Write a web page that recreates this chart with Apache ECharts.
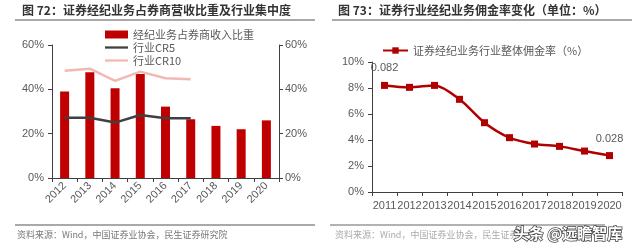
<!DOCTYPE html>
<html><head><meta charset="utf-8">
<script src="https://cdn.jsdelivr.net/npm/echarts@6/dist/echarts.min.js"></script>
<style>html,body{margin:0;padding:0;background:#fff}#c{width:640px;height:249px}</style>
</head><body><div id="c"></div>
<script>
const yearsL = ['2012','2013','2014','2015','2016','2017','2018','2019','2020'];
const brokerShare = [0.39, 0.477, 0.405, 0.469, 0.322, 0.265, 0.235, 0.22, 0.26];
const cr5 = [0.272, 0.272, 0.25, 0.284, 0.27, 0.27, null, null, null];
const cr10 = [0.484, 0.493, 0.438, 0.48, 0.45, 0.445, null, null, null];
const yearsR = ['2011','2012','2013','2014','2015','2016','2017','2018','2019','2020'];
const commission = [0.082, 0.0805, 0.082, 0.0713, 0.0533, 0.0418, 0.0369, 0.0351, 0.0315, 0.028];
const leftTicks = [0, 0.2, 0.4, 0.6];
const rightTicks = [0, 0.02, 0.04, 0.06, 0.08, 0.10];

const gray = '#595959';
const axisFont = 'Liberation Sans, Arial, sans-serif';
const cjk = '"Noto Sans CJK SC", sans-serif';
const pct = v => Math.round(v * 100) + '%';

const chart = echarts.init(document.getElementById('c'), null, {renderer: 'canvas'});
chart.setOption({
  animation: false,
  backgroundColor: '#fff',
  graphic: [
    {type: 'text', left: 22, top: 4, style: {text: '图 72：证券经纪业务占券商营收比重及行业集中度', font: 'bold 12px ' + cjk, fill: '#333'}},
    {type: 'line', shape: {x1: 15, y1: 20, x2: 315, y2: 20}, style: {stroke: '#555', lineWidth: 1.2}},
    {type: 'text', left: 338, top: 4, style: {text: '图 73：证券行业经纪业务佣金率变化（单位：%）', font: 'bold 12px ' + cjk, fill: '#333'}},
    {type: 'line', shape: {x1: 332, y1: 20, x2: 632, y2: 20}, style: {stroke: '#555', lineWidth: 1.2}},
    {type: 'line', shape: {x1: 15, y1: 225, x2: 315, y2: 225}, style: {stroke: '#555', lineWidth: 1.2}},
    {type: 'line', shape: {x1: 330, y1: 225, x2: 605, y2: 225}, style: {stroke: '#666', lineWidth: 1.2}},
    {type: 'text', left: 17, top: 230, style: {text: '资料来源：Wind，中国证券业协会，民生证券研究院', font: '9px ' + cjk, fill: '#777'}},
    {type: 'text', left: 335, top: 230, style: {text: '资料来源：Wind，中国证券业协会，民生证券', font: '9px ' + cjk, fill: '#aaa'}},
    {type: 'text', left: 513, top: 225, z: 100, style: {text: '头条 @远瞻智库', font: 'bold 15px ' + cjk, fill: '#fff', stroke: '#444', lineWidth: 1.5}}
  ],
  legend: [
    {
      left: 100, top: 24, orient: 'vertical', itemGap: 2, itemWidth: 23, itemHeight: 8,
      textStyle: {color: gray, fontSize: 11, fontFamily: cjk},
      data: [
        {name: '经纪业务占券商收入比重', icon: 'rect'},
        {name: '行业CR5', icon: 'path://M0,0H10V1H0Z', itemStyle: {color: '#404040'}},
        {name: '行业CR10', icon: 'path://M0,0H10V1H0Z'}
      ]
    },
    {
      left: 377, top: 40, itemWidth: 25, itemHeight: 8,
      textStyle: {color: gray, fontSize: 11, fontFamily: cjk},
      data: ['证券经纪业务行业整体佣金率（%）']
    }
  ],
  grid: [
    {left: 52, top: 45, width: 227, height: 133},
    {left: 372, top: 62, width: 250, height: 130}
  ],
  xAxis: [
    {
      type: 'category', gridIndex: 0, data: yearsL,
      axisLine: {lineStyle: {color: '#404040'}},
      axisTick: {show: true, alignWithLabel: false, length: 4, lineStyle: {color: '#404040'}},
      axisLabel: {rotate: 45, interval: 0, color: gray, fontSize: 11, fontFamily: axisFont, margin: 6}
    },
    {
      type: 'category', gridIndex: 1, data: yearsR,
      axisLine: {lineStyle: {color: '#404040'}},
      axisTick: {show: true, length: 4, lineStyle: {color: '#404040'}},
      axisLabel: {interval: 0, color: gray, fontSize: 11, fontFamily: axisFont, margin: 8}
    }
  ],
  yAxis: [
    {
      type: 'value', gridIndex: 0, min: leftTicks[0], max: leftTicks[leftTicks.length - 1], interval: 0.2,
      axisLine: {show: true, lineStyle: {color: '#404040'}},
      axisTick: {show: true, length: 4, lineStyle: {color: '#404040'}},
      splitLine: {show: false},
      axisLabel: {formatter: pct, color: gray, fontSize: 11, fontFamily: axisFont, margin: 8}
    },
    {
      type: 'value', gridIndex: 0, position: 'right', min: leftTicks[0], max: leftTicks[leftTicks.length - 1], interval: 0.2,
      axisLine: {show: true, lineStyle: {color: '#404040'}},
      axisTick: {show: true, length: 4, lineStyle: {color: '#404040'}},
      splitLine: {show: false},
      axisLabel: {formatter: pct, color: gray, fontSize: 11, fontFamily: axisFont, margin: 6}
    },
    {
      type: 'value', gridIndex: 1, min: rightTicks[0], max: rightTicks[rightTicks.length - 1], interval: 0.02,
      axisLine: {show: true, lineStyle: {color: '#404040'}},
      axisTick: {show: true, length: 4, lineStyle: {color: '#404040'}},
      splitLine: {show: false},
      axisLabel: {formatter: pct, color: gray, fontSize: 11, fontFamily: axisFont, margin: 8}
    }
  ],
  series: [
    {
      name: '经纪业务占券商收入比重', type: 'bar', xAxisIndex: 0, yAxisIndex: 0,
      data: brokerShare, barWidth: 9, itemStyle: {color: '#C00000'}
    },
    {
      name: '行业CR5', type: 'line', xAxisIndex: 0, yAxisIndex: 1, data: cr5,
      symbol: 'none', lineStyle: {color: '#404040', width: 2.5}, itemStyle: {color: '#404040'}, z: 3
    },
    {
      name: '行业CR10', type: 'line', xAxisIndex: 0, yAxisIndex: 1, data: cr10,
      symbol: 'none', lineStyle: {color: '#F2B8B3', width: 2.5}, itemStyle: {color: '#F2B8B3'}, z: 3
    },
    {
      name: '证券经纪业务行业整体佣金率（%）', type: 'line', xAxisIndex: 1, yAxisIndex: 2,
      smooth: 0.3, symbol: 'rect', symbolSize: 7,
      lineStyle: {color: '#B00000', width: 2.5}, itemStyle: {color: '#B00000'},
      data: commission.map((v, i) => ({
        value: v,
        label: {show: i === 0 || i === commission.length - 1}
      })),
      label: {position: 'top', distance: 8, color: gray, fontSize: 11, fontFamily: axisFont, formatter: p => String(p.value)}
    }
  ]
});
</script></body></html>
